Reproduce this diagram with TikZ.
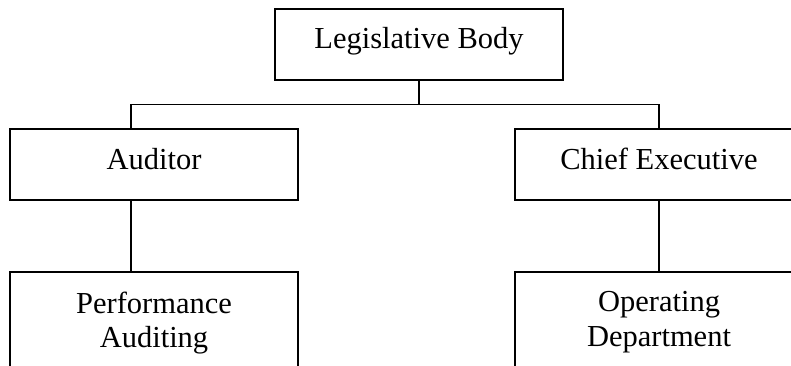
\documentclass[tikz,border=0pt]{standalone}
\usepackage{fontspec}
\setmainfont{Liberation Serif}
\begin{document}
\begin{tikzpicture}[x=1pt, y=1pt, line join=miter,
    box/.style={draw, line width=1.6pt, rectangle, minimum width=288pt,
        font=\fontsize{30.5}{34.5}\selectfont},
    onebox/.style={box, minimum height=71pt, text height=20pt, text depth=11pt},
    twobox/.style={box, anchor=north, align=center, inner ysep=20pt},
    link/.style={line width=1.6pt}]

    \useasboundingbox (0,0) rectangle (791,-366);

    % Boxes (top and middle row)
    \node[onebox] (legis) at (419,-44.5) {Legislative Body};
    \node[onebox] (audit) at (154,-164.5) {Auditor};
    \node[onebox] (chief) at (659,-164.5) {Chief Executive};

    % Boxes (bottom row, cut off by the page)
    \node[twobox] (perf) at (154,-271) {Performance\\Auditing};
    \node[twobox] (oper) at (659,-271) {Operating\\Department};

    % Bus line
    \coordinate (busL) at (131,-104.5);
    \coordinate (busR) at (659,-104.5);

    % Connectors
    \draw[link] (legis.south) -- (legis.south |- busL);
    \draw[link] (busL) -- (busR);
    \draw[link] (busL) -- (busL |- audit.north);
    \draw[link] (busR) -- (chief.north);
    \draw[link] (busL |- audit.south) -- (busL |- perf.north);
    \draw[link] (chief.south) -- (oper.north);
\end{tikzpicture}
\end{document}
